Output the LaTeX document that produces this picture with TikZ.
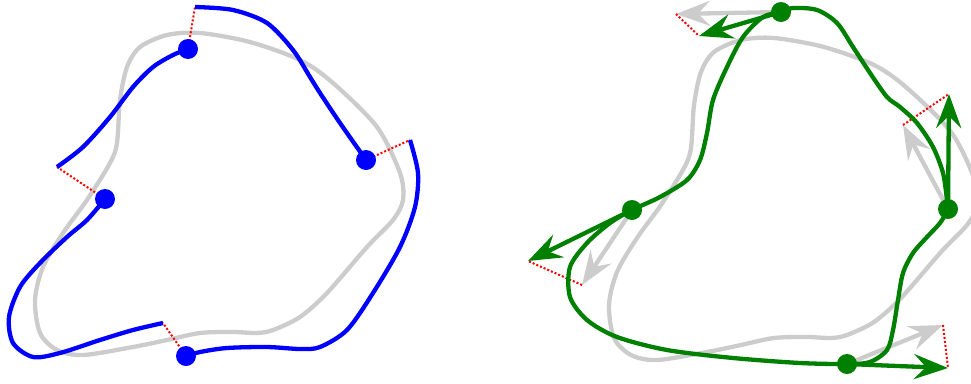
\documentclass[tikz,border=0pt]{standalone}
\usepackage{tikz}
\usetikzlibrary{arrows.meta}
\tikzset{
  base curve/.style={draw=black!20,line width=4.3pt},
  blue piece/.style={draw=blue,line width=4.3pt},
  green loop/.style={draw=green!50!black,line width=4.3pt},
  gap line/.style={red,line width=2pt,dash pattern=on 2pt off 2pt},
  blue dot/.style={circle,fill=blue,minimum size=20pt,inner sep=0pt},
  green dot/.style={circle,fill=green!50!black,minimum size=20pt,inner sep=0pt},
  green tangent/.style={-{Stealth[length=34pt,width=25pt,inset=12pt]},
    green!50!black,line width=4.3pt},
  gray tangent/.style={-{Stealth[length=34pt,width=25pt,inset=12pt]},
    black!20,line width=4.3pt}
}
\begin{document}
\begin{tikzpicture}[x=1pt,y=-1pt]
  \useasboundingbox (0,0) rectangle (971,383);
  \clip (0,0) rectangle (971,383);
  % reference loop, left and right copy
  \foreach \dx/\dy in {0/0,574/5}
    \draw[base curve,shift={(\dx,\dy)}] plot[smooth cycle] coordinates {
      (200,33) (250,42) (300,60) (333,83) (377,127) (400,173) (403,200)
      (393,220) (367,247) (327,293) (300,317) (273,330) (257,333) (233,332)
      (200,333) (167,340) (133,347) (83,355) (57,350) (40,333) (35,300)
      (43,267) (63,233) (87,200) (110,163) (117,143) (120,100) (127,67)
      (140,47) (167,35)};
  % left: broken pieces
  \coordinate (bpos1) at (188,49);
  \coordinate (bpos2) at (366,160);
  \coordinate (bpos3) at (186,356);
  \coordinate (bpos4) at (105,199);
  \coordinate (bend1) at (195,7);
  \coordinate (bend2) at (410,140);
  \coordinate (bend3) at (163,323);
  \coordinate (bend4) at (57,167);
  \foreach \k in {1,...,4}
    \draw[gap line] (bpos\k) -- (bend\k);
  \draw[blue piece] plot[smooth] coordinates {(bend4) (83,147) (110,117)
    (133,87) (153,67) (173,55) (bpos1)};
  \draw[blue piece] plot[smooth] coordinates {(bend1) (233,10) (267,23)
    (293,50) (310,77) (320,93) (340,123) (bpos2)};
  \draw[blue piece] plot[smooth] coordinates {(bend2) (418,173) (415,207)
    (400,247) (373,293) (347,330) (320,347) (300,349) (267,347) (227,348)
    (200,352) (bpos3)};
  \draw[blue piece] plot[smooth] coordinates {(bend3) (133,330) (100,340)
    (60,353) (33,357) (13,343) (9,317) (20,287) (40,263) (67,237) (87,220)
    (bpos4)};
  \foreach \k in {1,...,4}
    \node[blue dot] (bdot\k) at (bpos\k) {};
  % right: closed curve with tangents
  \coordinate (gpos1) at (781,12);
  \coordinate (gpos2) at (948,209);
  \coordinate (gpos3) at (847,364);
  \coordinate (gpos4) at (632,210);
  \coordinate (greytip1) at (676,14);
  \coordinate (greytip2) at (903,125);
  \coordinate (greytip3) at (943,325);
  \coordinate (greytip4) at (582,285);
  \coordinate (greentip1) at (699,36);
  \coordinate (greentip2) at (949,94);
  \coordinate (greentip3) at (948,368);
  \coordinate (greentip4) at (528,261);
  \foreach \k in {1,...,4}
    \draw[gray tangent] (gpos\k) -- (greytip\k);
  \foreach \k in {1,...,4}
    \draw[gap line] (greytip\k) -- (greentip\k);
  \draw[green loop] plot[smooth cycle] coordinates {(gpos1) (793,8)
    (817,10) (837,23) (853,47) (870,73) (887,97) (900,107) (917,123)
    (933,147) (943,173) (947,200) (gpos2) (940,223) (927,237) (913,253)
    (903,273) (898,300) (893,330) (887,350) (870,362) (gpos3) (800,363)
    (733,358) (667,350) (617,337) (587,320) (570,297) (570,267) (587,243)
    (610,223) (gpos4) (660,197) (687,180) (700,160) (707,133) (713,100)
    (727,67) (743,37) (763,17)};
  \foreach \k in {1,...,4}
    \node[green dot] (gdot\k) at (gpos\k) {};
  \foreach \k in {1,...,4}
    \draw[green tangent] (gdot\k.center) -- (greentip\k);
\end{tikzpicture}
\end{document}
